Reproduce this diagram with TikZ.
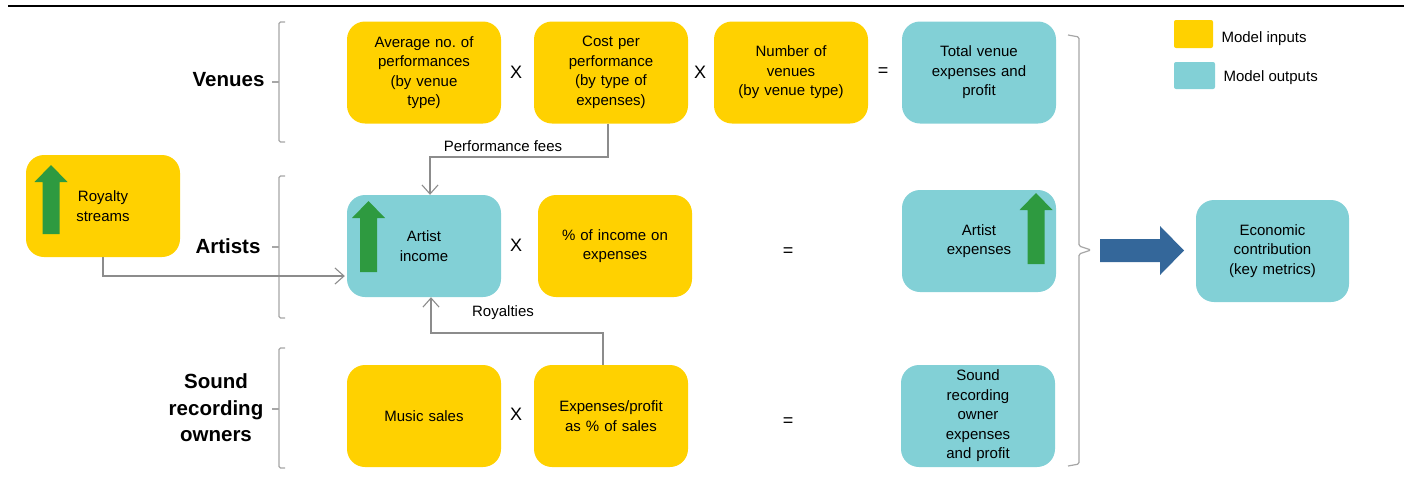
\documentclass[tikz,border=0pt]{standalone}
\usepackage{fontspec}
\setmainfont{Liberation Sans}
\usetikzlibrary{arrows.meta}
\frenchspacing
\definecolor{yel}{HTML}{FFD100}
\definecolor{tealb}{HTML}{82D0D6}
\definecolor{grn}{HTML}{2E9A40}
\definecolor{blu}{HTML}{34679A}
\definecolor{lgrey}{HTML}{8C8C8C}
\definecolor{bgrey}{HTML}{A6A6A6}
\newcommand\GreenUp[3]{% center x, top y, bottom y
  \fill[grn] (#1,#2) -- (#1+16.5,#2+17) -- (#1+8.5,#2+17) -- (#1+8.5,#3) -- (#1-8.5,#3) -- (#1-8.5,#2+17) -- (#1-16.5,#2+17) -- cycle;}
\begin{document}
\begin{tikzpicture}[x=1pt,y=-1pt,
  box/.style={rounded corners=18pt, minimum width=154pt, minimum height=102pt, align=center, inner sep=2pt, text width=140pt, font=\fontsize{15}{19.5}\selectfont},
  inbox/.style={box, fill=yel},
  outbox/.style={box, fill=tealb},
  op/.style={font=\fontsize{18}{20}\selectfont},
  grp/.style={font=\fontsize{20.5}{26.5}\selectfont\bfseries, align=center},
  lbl/.style={font=\fontsize{15}{18}\selectfont},
  conn/.style={draw=lgrey, line width=1.1pt, -{Straight Barb[length=9pt,width=16pt]}},
  brk/.style={draw=bgrey, line width=1.2pt, rounded corners=1.5pt}]
\useasboundingbox (0,0) rectangle (1412,488);
\draw[line width=2.2pt] (8,6) -- (1404,6);
% venues row
\node[inbox] (avg) at (424,72.5) {Average no. of\\performances\\(by venue\\type)};
\node[inbox] (cost) at (611,72.5) {Cost per\\performance\\(by type of\\expenses)};
\node[inbox] (num) at (791,72.5) {Number of\\venues\\(by venue type)};
\node[outbox] (tot) at (979,72.5) {Total venue\\expenses and\\profit};
\node[op] (x1) at (516,72) {X};
\node[op] (x2) at (700,72) {X};
\node[op] (e1) at (883,72) {=};
% artists row
\node[inbox] (roy) at (103,206) {Royalty\\streams};
\node[outbox] (ai) at (424,246) {Artist\\income};
\node[op] (x3) at (516,245) {X};
\node[inbox] (pct) at (615,246) {\% of income on\\expenses};
\node[op] (e2) at (788,252) {=};
\node[outbox] (ae) at (979,241) {Artist\\expenses};
% sound row
\node[inbox] (ms) at (424,416) {Music sales};
\node[op] (x4) at (516,414) {X};
\node[inbox] (ep) at (611,416) {Expenses/profit\\as \% of sales};
\node[op] (e3) at (788,422) {=};
\node[outbox] (so) at (978,416) {Sound\\recording\\owner\\expenses\\and profit};
% economic contribution
\node[outbox, minimum width=153pt] (ec) at (1272.5,251) {Economic\\contribution\\(key metrics)};
% green arrows
\GreenUp{51}{165}{234}
\GreenUp{368.5}{201}{272}
\GreenUp{1036}{193}{264}
% blue arrow
\fill[blu] (1100,239) -- (1160,239) -- (1160,226) -- (1184,250.5) -- (1160,275) -- (1160,262) -- (1100,262) -- cycle;
% group labels
\node[grp, anchor=east] (gv) at (268,80) {Venues};
\node[grp, anchor=east] (ga) at (264,246) {Artists};
\node[grp] (gs) at (216,408) {Sound\\recording\\owners};
% brackets
\draw[brk] (285,22) -- (279,22) -- (279,142) -- (285,142);
\draw[brk] (279,82) -- (272,82);
\draw[brk] (285,176) -- (279,176) -- (279,318) -- (285,318);
\draw[brk] (279,247) -- (272,247);
\draw[brk] (285,348) -- (279,348) -- (279,468) -- (285,468);
\draw[brk] (279,409) -- (272,409);
\draw[brk] (1068,35) -- (1079,37) -- (1079,246) -- (1091,250) -- (1079,254) -- (1079,464) -- (1068,466);
% connectors
\coordinate (pf) at (430,157);
\draw[conn] ([xshift=-3pt]cost.south) |- (pf) -- ([xshift=6pt]ai.north);
\coordinate (ry) at (431,333);
\draw[conn] ([xshift=-8pt]ep.north) |- (ry) -- ([xshift=7pt]ai.south);
\draw[conn] (roy.south) |- ([yshift=-30pt,xshift=-2pt]ai.west);
\node[lbl] (lpf) at (503,146) {Performance fees};
\node[lbl] (lry) at (503,313) {Royalties};
% legend
\fill[yel, rounded corners=2pt] (1174,20) rectangle (1213,48);
\node[lbl, anchor=west] (li) at (1218,39) {Model inputs};
\fill[tealb, rounded corners=2pt] (1174,62) rectangle (1215,89);
\node[lbl, anchor=west] (lo) at (1220,78) {Model outputs};
\end{tikzpicture}
\end{document}
